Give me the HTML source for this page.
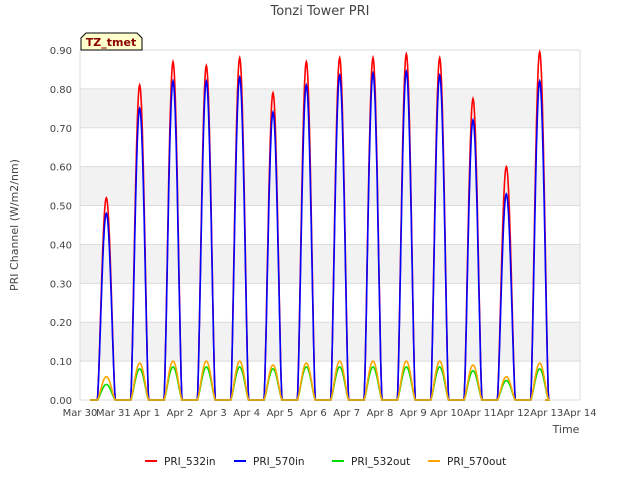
<!DOCTYPE html>
<html><head><meta charset="utf-8"><style>
body{margin:0;background:#fff;font-family:"Liberation Sans","DejaVu Sans",sans-serif}
svg text{font-family:"DejaVu Sans","Liberation Sans",sans-serif}
</style></head><body>
<svg id="c" width="640" height="480" xmlns="http://www.w3.org/2000/svg">
<text x="320" y="15" text-anchor="middle" font-size="13" fill="#444">Tonzi Tower PRI</text>
<g id="grid"></g>
<g id="series"></g>
<g id="axes"></g>
<text transform="translate(18,225) rotate(-90)" text-anchor="middle" font-size="11" fill="#444">PRI Channel (W/m2/nm)</text>
<text x="566" y="433" text-anchor="middle" font-size="11" fill="#444">Time</text>
<g>
<path d="M81,50 L81,38 L86,33 L137,33 L142,38 L142,50 Z" fill="#ffffcc" stroke="#000" stroke-width="1"/>
<text x="111" y="46" text-anchor="middle" font-size="11" font-weight="bold" fill="#8b0000">TZ_tmet</text>
</g>
<g id="legend"></g>
</svg>
<script>
const dayLabels=["Mar 30","Mar 31","Apr 1","Apr 2","Apr 3","Apr 4","Apr 5","Apr 6","Apr 7","Apr 8","Apr 9","Apr 10","Apr 11","Apr 12","Apr 13","Apr 14"];
const yTicks=[0,0.1,0.2,0.3,0.4,0.5,0.6,0.7,0.8,0.9];
const seriesNames=["PRI_532in","PRI_570in","PRI_532out","PRI_570out"];
const pri532in=[0.52,0.81,0.87,0.86,0.88,0.79,0.87,0.88,0.88,0.89,0.88,0.775,0.60,0.895];
const pri570in=[0.48,0.75,0.82,0.82,0.83,0.74,0.81,0.835,0.84,0.845,0.835,0.72,0.53,0.82];
const pri532out=[0.04,0.08,0.085,0.085,0.085,0.08,0.085,0.085,0.085,0.085,0.085,0.075,0.05,0.08];
const pri570out=[0.06,0.095,0.10,0.10,0.10,0.09,0.095,0.10,0.10,0.10,0.10,0.09,0.06,0.095];
const colors=["#ff0000","#0000ff","#00dd00","#ffa500"];
const NS="http://www.w3.org/2000/svg";
const X0=80,X1=580,Y0=400,Y1=50;
const xs=d=>X0+(X1-X0)*d/15;
const ys=v=>Y0-(Y0-Y1)*v/0.9;
function mk(t,p){const e=document.createElementNS(NS,t);for(const k in p)e.setAttribute(k,p[k]);return e;}
const grid=document.getElementById('grid'),axes=document.getElementById('axes'),ser=document.getElementById('series'),leg=document.getElementById('legend');
for(let i=0;i<yTicks.length-1;i++){
  if(i%2===1){const r=mk('rect',{x:X0,y:ys(yTicks[i+1]),width:X1-X0,height:ys(yTicks[i])-ys(yTicks[i+1]),fill:'#f2f2f2'});
  
  
  grid.appendChild(r);}
}
yTicks.forEach(v=>{
  const l=mk('line',{x1:X0,x2:X1,y1:ys(v),y2:ys(v),stroke:'#dcdcdc'});
  
  
  grid.appendChild(l);
  const t=mk('text',{x:X0-8,y:ys(v)+4,'text-anchor':'end','font-size':'10',fill:'#444'});
  t.textContent=v.toFixed(2);
  
  
  axes.appendChild(t);
});
const vb=mk('line',{x1:X1,x2:X1,y1:Y1,y2:Y0,stroke:'#dcdcdc'});grid.appendChild(vb);
const vl=mk('line',{x1:X0,x2:X0,y1:Y1,y2:Y0,stroke:'#dcdcdc'});grid.appendChild(vl);
dayLabels.forEach((s,i)=>{
  const t=mk('text',{x:xs(i),y:Y0+16,'text-anchor':'middle','font-size':'10',fill:'#444'});
  t.textContent=s;
  
  
  axes.appendChild(t);
});
const data=[pri532in,pri570in,pri532out,pri570out];
data.forEach((arr,si)=>{
  let pts=[];
  pts.push([0.3,0]);
  arr.forEach((pk,d)=>{
    const c=d+0.79,w=0.27;
    for(let k=0;k<=40;k++){const t=c-w+2*w*k/40;const u=(t-c)/w;const cs=Math.max(0,Math.cos(u*Math.PI/2));const v=pk*Math.pow(cs,1.4);pts.push([t,v]);}
  });
  pts.push([13.95,0]);
  const p=mk('polyline',{points:pts.map(q=>xs(q[0]).toFixed(1)+','+ys(q[1]).toFixed(1)).join(' '),fill:'none',stroke:colors[si],'stroke-width':'1.6'});
  
  
  ser.appendChild(p);
});
const lx=[145,234,332,428];
seriesNames.forEach((n,i)=>{
  const l=mk('line',{x1:lx[i],x2:lx[i]+12,y1:461,y2:461,stroke:colors[i],'stroke-width':'2'});
  
  
  leg.appendChild(l);
  const t=mk('text',{x:lx[i]+19,y:465,'font-size':'10.5',fill:'#222'});
  t.textContent=n;
  
  
  leg.appendChild(t);
});
</script>
</body></html>
